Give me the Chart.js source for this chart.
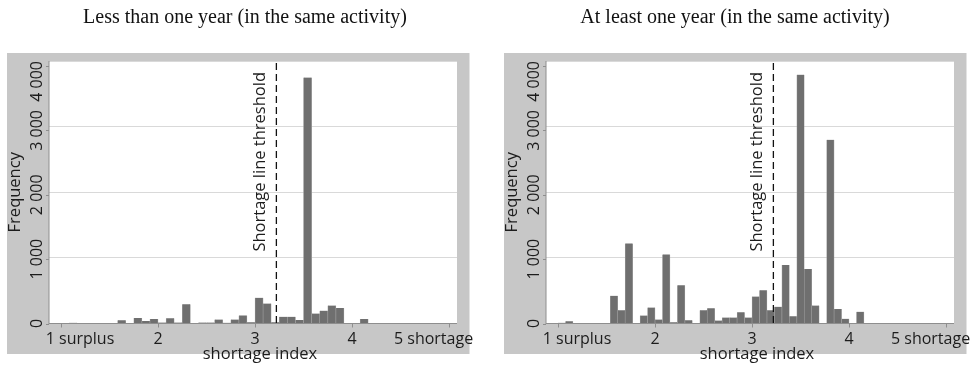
<!DOCTYPE html>
<html>
<head>
<meta charset="utf-8">
<script src="https://cdn.jsdelivr.net/npm/chart.js@4.4.1/dist/chart.umd.min.js"></script>
<style>
html, body { margin: 0; padding: 0; background: #ffffff; width: 978px; height: 367px; overflow: hidden; }
.panel { position: absolute; top: 0; width: 481px; height: 367px; }
</style>
</head>
<body>
<div class="panel" style="left:0px"><canvas id="lessChart" width="481" height="367"></canvas></div>
<div class="panel" style="left:497px"><canvas id="atLeastChart" width="481" height="367"></canvas></div>
<script>
// ---------------- DATA ----------------
const panelTitles = ['Less than one year (in the same activity)', 'At least one year (in the same activity)'];
const xAxisTitle = 'shortage index';
const yAxisTitle = 'Frequency';
const xTickValues = [1, 2, 3, 4, 5];
const xTickLabels = ['1 surplus', '2', '3', '4', '5 shortage'];
const yTickValues = [0, 1000, 2000, 3000, 4000];
const yTickLabels = ['0', '1 000', '2 000', '3 000', '4 000'];
const thresholdValue = 3.22;
const thresholdLabel = 'Shortage line threshold';

// histogram bins (bin centres on the shortage index) and frequencies
const lessBinCenters = [1.0417, 1.125, 1.2083, 1.2917, 1.375, 1.4583, 1.5417, 1.625, 1.7083, 1.7917,
  1.875, 1.9583, 2.0417, 2.125, 2.2083, 2.2917, 2.375, 2.4583, 2.5417, 2.625,
  2.7083, 2.7917, 2.875, 2.9583, 3.0417, 3.125, 3.2083, 3.2917, 3.375, 3.4583,
  3.5417, 3.625, 3.7083, 3.7917, 3.875, 3.9583, 4.0417, 4.125];
const lessCounts = [5, 12, 0, 0, 0, 0, 0, 50, 0, 85,
  40, 70, 15, 80, 15, 300, 0, 15, 15, 62,
  10, 62, 125, 20, 400, 310, 20, 105, 105, 55,
  3820, 155, 200, 280, 240, 5, 0, 70];

const atLeastBinCenters = [1.0385, 1.1154, 1.1923, 1.2692, 1.3462, 1.4231, 1.5, 1.5769, 1.6538, 1.7308,
  1.8077, 1.8846, 1.9615, 2.0385, 2.1154, 2.1923, 2.2692, 2.3462, 2.4231, 2.5,
  2.5769, 2.6538, 2.7308, 2.8077, 2.8846, 2.9615, 3.0385, 3.1154, 3.1923, 3.2692,
  3.3462, 3.4231, 3.5, 3.5769, 3.6538, 3.7308, 3.8077, 3.8846, 3.9615, 4.0385, 4.1154];
const atLeastCounts = [10, 36, 0, 0, 0, 0, 0, 430, 207, 1244,
  0, 124, 249, 62, 1073, 20, 596, 52, 0, 207,
  238, 47, 93, 93, 176, 93, 420, 515, 207, 259,
  907, 114, 3866, 848, 279, 5, 2853, 227, 72, 5, 181];

// ---------------- STYLE / LAYOUT ----------------
const SANS = '"Open Sans", "DejaVu Sans", sans-serif';
const SERIF = '"Liberation Serif", "DejaVu Serif", serif';
const xLabelShift = [19, 0, 0, 0, -15.5];

const decorPlugin = {
  id: 'decor',
  beforeDraw(chart) {
    const ctx = chart.ctx, a = chart.chartArea;
    ctx.save();
    ctx.fillStyle = '#c7c7c7';
    ctx.fillRect(7, 53, 462.5, 301);
    ctx.fillStyle = '#ffffff';
    ctx.fillRect(a.left, a.top, a.right - a.left, a.bottom - a.top);
    ctx.restore();
  },
  afterDatasetsDraw(chart, args, opts) {
    const ctx = chart.ctx, a = chart.chartArea;
    const xs = chart.scales.x, ys = chart.scales.y;
    ctx.save();
    // axis lines
    ctx.strokeStyle = '#8e8e8e';
    ctx.lineWidth = 1;
    ctx.beginPath();
    ctx.moveTo(a.left, a.top); ctx.lineTo(a.left, a.bottom + 0.5);
    ctx.moveTo(a.left, a.bottom); ctx.lineTo(a.right, a.bottom);
    ctx.stroke();
    // x ticks
    ctx.beginPath();
    xTickValues.forEach(v => {
      const px = Math.round(xs.getPixelForValue(v)) + 0.5;
      ctx.moveTo(px, a.bottom); ctx.lineTo(px, a.bottom + 4);
    });
    // y ticks
    yTickValues.forEach(v => {
      const py = Math.round(ys.getPixelForValue(v)) + 0.5;
      ctx.moveTo(a.left, py); ctx.lineTo(a.left - 3, py);
    });
    ctx.stroke();

    ctx.fillStyle = '#1c1c1c';
    // x tick labels
    ctx.font = '16px ' + SANS;
    ctx.textAlign = 'center';
    ctx.textBaseline = 'alphabetic';
    xTickValues.forEach((v, i) => {
      ctx.fillText(xTickLabels[i], xs.getPixelForValue(v) + xLabelShift[i], a.bottom + 20);
    });
    // y tick labels (rotated)
    yTickValues.forEach((v, i) => {
      const w = ctx.measureText(yTickLabels[i]).width;
      let cy = ys.getPixelForValue(v);
      cy = Math.max(cy, a.top + w / 2);
      ctx.save();
      ctx.translate(37.5, cy);
      ctx.rotate(-Math.PI / 2);
      ctx.textAlign = 'center';
      ctx.textBaseline = 'middle';
      ctx.fillText(yTickLabels[i], 0, 0);
      ctx.restore();
    });
    // axis titles
    ctx.font = '16.5px ' + SANS;
    ctx.textAlign = 'center';
    ctx.textBaseline = 'alphabetic';
    ctx.fillText(xAxisTitle, (a.left + a.right) / 2 + 7, a.bottom + 35);
    ctx.save();
    ctx.translate(15, (a.top + a.bottom) / 2);
    ctx.rotate(-Math.PI / 2);
    ctx.textBaseline = 'middle';
    ctx.fillText(yAxisTitle, 0, 0);
    ctx.restore();

    // threshold line
    const tx = xs.getPixelForValue(thresholdValue);
    ctx.strokeStyle = '#111111';
    ctx.lineWidth = 1.3;
    ctx.setLineDash([7, 4]);
    ctx.beginPath();
    ctx.moveTo(tx, a.top + 2); ctx.lineTo(tx, a.bottom);
    ctx.stroke();
    ctx.setLineDash([]);
    ctx.save();
    ctx.translate(tx - 11, a.top + 11);
    ctx.rotate(-Math.PI / 2);
    ctx.textAlign = 'right';
    ctx.textBaseline = 'alphabetic';
    ctx.font = '16.5px ' + SANS;
    ctx.fillText(thresholdLabel, 0, 0);
    ctx.restore();

    // panel title
    ctx.font = '20px ' + SERIF;
    ctx.textAlign = 'center';
    ctx.textBaseline = 'alphabetic';
    ctx.fillStyle = '#111111';
    ctx.fillText(opts.title, opts.titleX, 23);
    ctx.restore();
  }
};

function makeChart(id, centers, counts, title, titleX) {
  const points = centers.map((x, i) => ({ x: x, y: counts[i] }));
  return new Chart(document.getElementById(id), {
    type: 'bar',
    data: {
      datasets: [{
        data: points,
        backgroundColor: '#6f6f6f',
        borderColor: '#a0a0a0',
        borderWidth: { left: 0.6, right: 0.6, top: 0, bottom: 0 },
        barPercentage: 1,
        categoryPercentage: 1
      }]
    },
    options: {
      responsive: false,
      animation: false,
      devicePixelRatio: 1,
      events: [],
      layout: { padding: { left: 49, right: 24, top: 61, bottom: 43.5 } },
      plugins: {
        legend: { display: false },
        tooltip: { enabled: false },
        title: { display: false },
        decor: { title: title, titleX: titleX }
      },
      scales: {
        x: {
          type: 'linear', min: 0.876, max: 5.082, offset: false,
          grid: { display: false, offset: false },
          border: { display: false },
          ticks: { display: false, stepSize: 1, includeBounds: false },
          afterFit(s) { s.height = 0; }
        },
        y: {
          type: 'linear', min: 0, max: 4078,
          grid: { color: '#d9d9d9', lineWidth: 1, drawTicks: false },
          border: { display: false },
          ticks: { display: false, stepSize: 1000, includeBounds: false },
          afterFit(s) { s.width = 0; }
        }
      }
    },
    plugins: [decorPlugin]
  });
}

makeChart('lessChart', lessBinCenters, lessCounts, panelTitles[0], 245);
makeChart('atLeastChart', atLeastBinCenters, atLeastCounts, panelTitles[1], 238);
</script>
</body>
</html>
